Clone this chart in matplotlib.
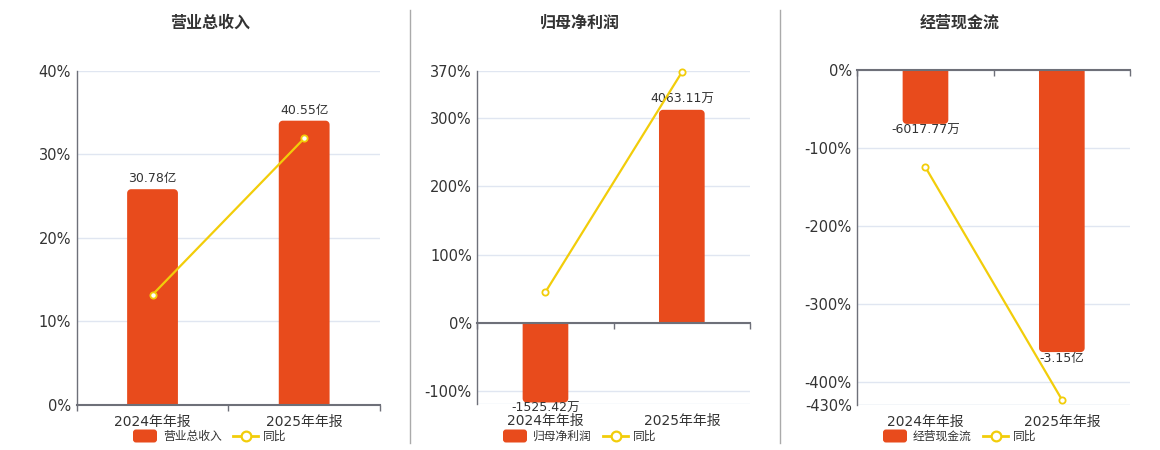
import numpy as np
import matplotlib.pyplot as plt
from matplotlib.patches import FancyBboxPatch, Polygon

plt.rcParams['font.family'] = ['DejaVu Sans', 'Noto Sans CJK SC']

#%% Data (bar values in 亿, yoy in %):
categories = ['2024年年报', '2025年年报']
titles = ['营业总收入', '归母净利润', '经营现金流']

revenue = [30.78, 40.55]
revenue_yoy = [13.2, 31.9]
net_profit = [-0.152542, 0.406311]
net_profit_yoy = [45.0, 367.7]
cash_flow = [-0.601777, -3.15]
cash_flow_yoy = [-124.9, -423.0]

#%% Style:
BAR = '#E84B1C'
LINE = '#F2CD0A'
AXIS = '#6E7079'
GRID = '#E0E6F1'
TXT = '#333333'
W, H = 1160, 450

def fmt(v):
    if abs(v) >= 1:
        return f'{v:.2f}亿'
    return f'{v * 10000:.2f}万'

def round_end(rc, rx, ry):
    # polygon of a bar with rounded corners at the far end only
    x0 = rc.get_x()
    x1 = x0 + rc.get_width()
    v = rc.get_y() + rc.get_height()
    s = np.sign(v)
    a = np.linspace(0, np.pi / 2, 10)
    left = [(x0 + rx - rx * np.cos(t), v - s * ry + s * ry * np.sin(t)) for t in a]
    right = [(x1 - rx + rx * np.cos(t), v - s * ry + s * ry * np.sin(t)) for t in a[::-1]]
    return [(x0, 0)] + left + right + [(x1, 0)]

# per panel: bars, yoy, ylim, yticks, bar scale (亿 per %), rect px (l, t, r, b), centre x
panels = [
    (revenue, revenue_yoy, (0, 40), [0, 10, 20, 30, 40], 1.192, (76.7, 70.7, 380, 405), 210),
    (net_profit, net_profit_yoy, (-120, 370), [-100, 0, 100, 200, 300, 370], 0.0013,
     (477.3, 70.7, 750, 404.3), 580),
    (cash_flow, cash_flow_yoy, (-430, 0), [-430, -400, -300, -200, -100, 0], 0.0087,
     (857.3, 70, 1130, 405), 960),
]

fig = plt.figure(figsize=(W / 100, H / 100), dpi=100)
x = np.arange(len(categories))

for title, (bars, yoy, ylim, yticks, k, (l, t, r, b), cx) in zip(titles, panels):
    rect = [l / W, 1 - b / H, (r - l) / W, (b - t) / H]
    w_px, h_px = r - l, b - t

    # base axes: ticks + grid
    ax = fig.add_axes(rect)
    ax.set_xlim(-0.5, 1.5)
    ax.set_ylim(*ylim)
    ax.set_yticks(yticks)
    ax.set_yticklabels([f'{v}%' for v in yticks])
    ax.set_xticks(x)
    ax.set_xticklabels(categories)
    ax.tick_params(axis='both', length=0, labelsize=10, colors=TXT)
    ax.tick_params(axis='y', pad=4, labelsize=10.5)
    ax.tick_params(axis='x', pad=7)
    ax.grid(axis='y', color=GRID, lw=1)
    ax.axhline(ylim[0], color=GRID, lw=1)
    for s in ['top', 'right', 'bottom']:
        ax.spines[s].set_visible(False)
    ax.spines['left'].set_color(AXIS)
    ax.spines['left'].set_linewidth(1)
    ax.set_axisbelow(True)

    # bars on own axes (separate value scale)
    tb = fig.add_axes(rect)
    tb.set_xlim(-0.5, 1.5)
    tb.set_ylim(ylim[0] * k, ylim[1] * k)
    tb.axis('off')
    rects = tb.bar(x, bars, width=0.335, color=BAR, lw=0)
    rx = 4 * 2 / w_px
    ry = 4 * (ylim[1] - ylim[0]) * k / h_px
    for rc in rects:
        tb.add_patch(Polygon(round_end(rc, rx, ry), closed=True, fc=BAR, ec='none'))
        rc.set_visible(False)
    for xi, v in zip(x, bars):
        off = 7.5 if v > 0 else -4.5
        tb.annotate(fmt(v), (xi, v), xytext=(0, off), textcoords='offset points',
                    ha='center', va='center', fontsize=9, color=TXT)

    # line + zero axis on top axes
    tl = fig.add_axes(rect)
    tl.set_ylim(*ylim)
    tl.set_xlim(-0.5, 1.5)
    tl.plot(x, yoy, color=LINE, lw=1.6, marker='o', ms=4.5, mfc='white', mec=LINE, mew=1.3,
            clip_on=False)
    for s in ['top', 'right', 'left']:
        tl.spines[s].set_visible(False)
    tl.spines['bottom'].set_position(('data', 0))
    tl.spines['bottom'].set_color(AXIS)
    tl.spines['bottom'].set_linewidth(1.5)
    tl.set_yticks([])
    tl.set_xticks([-0.5, 0.5, 1.5])
    tl.tick_params(axis='x', direction='out', length=4, color=AXIS, width=1, labelbottom=False)
    tl.patch.set_visible(False)

    fig.text(cx / W, 1 - 23 / H, title, ha='center', va='center',
             fontsize=11.5, fontweight='bold', color=TXT)

# overlay for separators and legends (pixel coords)
ov = fig.add_axes([0, 0, 1, 1])
ov.set_xlim(0, W)
ov.set_ylim(H, 0)
ov.axis('off')
ov.patch.set_visible(False)
for sx in [410, 780]:
    ov.plot([sx, sx], [10, 443], color='#AAAAAA', lw=1)
for title, p in zip(titles, panels):
    cx = p[-1]
    ov.add_patch(FancyBboxPatch((cx - 77, 429.5), 24, 13,
                                boxstyle='round,pad=0,rounding_size=3', fc=BAR, ec='none'))
    ov.text(cx - 47, 436.5, title, ha='left', va='center', fontsize=8.5, color=TXT)
    ov.plot([cx + 23, cx + 48], [436, 436], color=LINE, lw=2)
    ov.plot([cx + 35.5], [436], marker='o', ms=7, mfc='white', mec=LINE, mew=1.6)
    ov.text(cx + 53, 436.5, '同比', ha='left', va='center', fontsize=8.5, color=TXT)

fig.savefig('out.png', dpi=100)
